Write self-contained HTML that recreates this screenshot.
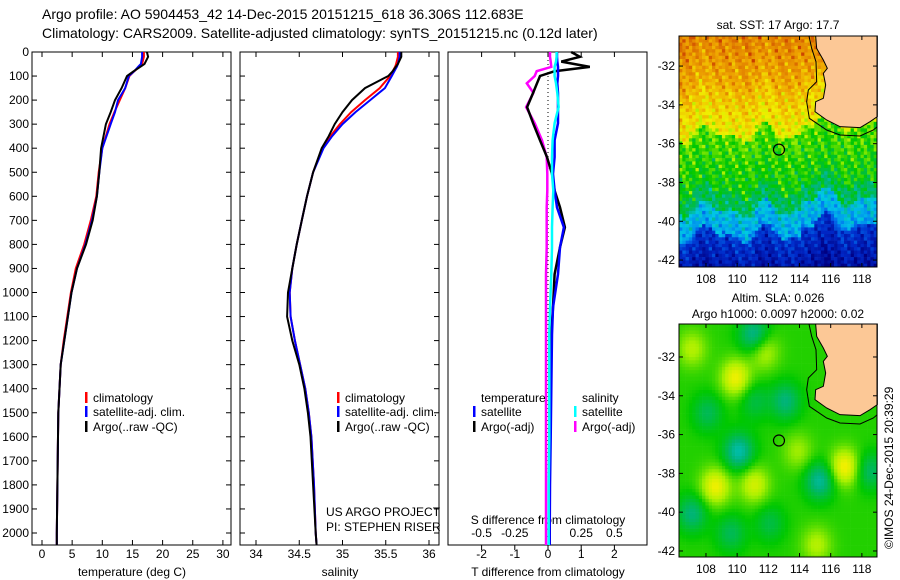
<!DOCTYPE html>
<html><head><meta charset="utf-8">
<style>
body{margin:0;background:#fff;}
svg{display:block;font-family:"Liberation Sans",sans-serif;}
</style></head>
<body>
<svg id="c" width="900" height="580" viewBox="0 0 900 580"></svg>
<script>
// ---------- data ----------
const depths=[0,20,50,60,80,100,150,200,250,300,350,400,500,600,700,800,900,1000,1100,1200,1300,1400,1500,1600,1800,2000,2050];
const tempArgo=[17.4,17.6,17.0,16.4,15.2,14.1,13.2,12.1,11.4,10.6,10.2,9.8,9.5,9.1,8.4,7.3,5.8,4.9,4.3,3.7,3.1,2.9,2.7,2.65,2.55,2.45,2.45];
const tempClim=[16.9,16.9,16.6,16.2,15.3,14.5,13.8,12.9,12.0,11.2,10.6,10.0,9.4,9.0,8.1,7.0,5.6,4.8,4.2,3.6,3.1,2.9,2.7,2.65,2.55,2.45,2.45];
const tempSat=[16.6,16.6,16.4,16.0,15.3,14.4,13.8,12.6,12.1,11.4,10.7,10.0,9.5,9.1,8.3,7.2,5.8,4.9,4.3,3.7,3.1,2.9,2.7,2.65,2.55,2.45,2.45];
const salArgo=[35.68,35.68,35.64,35.62,35.58,35.53,35.26,35.11,35.0,34.91,34.84,34.76,34.66,34.59,34.53,34.47,34.42,34.37,34.36,34.42,34.50,34.56,34.60,34.63,34.66,34.69,34.70];
const salClim=[35.64,35.64,35.62,35.61,35.58,35.55,35.43,35.26,35.1,34.97,34.86,34.77,34.66,34.59,34.53,34.47,34.42,34.39,34.40,34.45,34.51,34.57,34.61,34.64,34.67,34.69,34.70];
const salSat=[35.66,35.66,35.64,35.63,35.60,35.57,35.49,35.32,35.15,35.0,34.88,34.78,34.66,34.59,34.53,34.47,34.42,34.39,34.40,34.45,34.51,34.57,34.61,34.64,34.67,34.69,34.70];
const dDepths=[0,20,40,62,80,100,130,170,229,296,367,437,507,576,646,729,812,924,1062,1174,1400,1600,1800,2000,2050];
const tDiffArgo=[0.7,0.96,0.4,1.26,0.2,-0.24,-0.33,-0.45,-0.63,-0.45,-0.24,-0.03,0.12,0.2,0.36,0.51,0.36,0.2,0.15,0.1,0.08,0.06,0.05,0.05,0.05];
const tDiffSat=[0.27,0.27,0.28,0.3,0.3,0.3,0.28,0.3,0.3,0.3,0.2,0.2,0.15,0.2,0.27,0.48,0.36,0.3,0.15,0.12,0.1,0.08,0.06,0.05,0.05];
const sDiffArgo=[0.015,0.015,0.02,0.025,-0.085,-0.1,-0.16,-0.11,-0.165,-0.1,-0.045,-0.01,-0.005,-0.005,-0.01,-0.01,-0.01,-0.015,-0.015,-0.015,-0.015,-0.015,-0.015,-0.015,-0.015];
const sDiffSat=[0.065,0.065,0.06,0.05,0.05,0.05,0.06,0.07,0.08,0.05,0.035,0.03,0.03,0.04,0.035,0.03,0.03,0.025,0.015,0.01,0.01,0.01,0.005,0.005,0.005];
const tempTicks=[0,5,10,15,20,25,30];
const salTicks=[34,34.5,35,35.5,36];
const tdTicks=[-2,-1,0,1,2];
const sdTicks=[-0.5,-0.25,0,0.25,0.5];
const depthTicks=[0,100,200,300,400,500,600,700,800,900,1000,1100,1200,1300,1400,1500,1600,1700,1800,1900,2000];
const lonTicks=[108,110,112,114,116,118];
const latTicks=[-32,-34,-36,-38,-40,-42];
const argoLon=[112.683], argoLat=[-36.306];

// ---------- helpers ----------
const S=document.getElementById('c');const NS='http://www.w3.org/2000/svg';
function mk(tag,at,parent){const e=document.createElementNS(NS,tag);for(const k in at)e.setAttribute(k,at[k]);(parent||S).appendChild(e);return e;}
function txt(x,y,s,anchor,size,parent){const t=mk('text',{x:x,y:y,'font-size':size||12,'text-anchor':anchor||'start',fill:'#000'},parent);t.textContent=s;return t;}
const yD=d=>52+0.2405*d;
const xT=v=>42+6.03*v;
const xS=v=>256+86.5*(v-34);
const xTd=v=>548+33.2*v;
const xSd=v=>548+132.8*v;

function panel(x0,x1,name){const r=mk('rect',{x:x0,y:52,width:x1-x0,height:493,fill:'none',stroke:'#000','stroke-width':1});}
function line(xs,ds,fx,col,w,name){const pts=xs.map((v,i)=>fx(v).toFixed(1)+','+yD(ds[i]).toFixed(1)).join(' ');const p=mk('polyline',{points:pts,fill:'none',stroke:col,'stroke-width':w});}

// titles
let t=txt(42,19,'Argo profile: AO 5904453_42 14-Dec-2015 20151215_618 36.306S 112.683E','start',14);

t=txt(42,38,'Climatology: CARS2009. Satellite-adjusted climatology: synTS_20151215.nc (0.12d later)','start',14);


// panels
panel(32,231,'temperature-panel');panel(240,439,'salinity-panel');panel(448,647,'difference-panel');
depthTicks.forEach(d=>{const y=yD(d);
 mk('line',{x1:32,y1:y,x2:37,y2:y,stroke:'#000'});mk('line',{x1:226,y1:y,x2:231,y2:y,stroke:'#000'});
 mk('line',{x1:240,y1:y,x2:245,y2:y,stroke:'#000'});mk('line',{x1:434,y1:y,x2:439,y2:y,stroke:'#000'});
 const l=txt(29,y+4,String(d),'end',12);});
tempTicks.forEach(v=>{const x=xT(v);mk('line',{x1:x,y1:52,x2:x,y2:57,stroke:'#000'});mk('line',{x1:x,y1:540,x2:x,y2:545,stroke:'#000'});
 const l=txt(x,558,String(v),'middle',12);});
salTicks.forEach(v=>{const x=xS(v);mk('line',{x1:x,y1:52,x2:x,y2:57,stroke:'#000'});mk('line',{x1:x,y1:540,x2:x,y2:545,stroke:'#000'});
 const l=txt(x,558,String(v),'middle',12);});
tdTicks.forEach(v=>{const x=xTd(v);mk('line',{x1:x,y1:52,x2:x,y2:57,stroke:'#000'});mk('line',{x1:x,y1:545,x2:x,y2:550,stroke:'#000'});
 const l=txt(x,558,String(v),'middle',12);});
sdTicks.forEach(v=>{const l=txt(xSd(v),537,String(v),'middle',12);});
[['temperature (deg C)',132,'x-axis-title-temperature'],['salinity',340,'x-axis-title-salinity'],['T difference from climatology',548,'x-axis-title-tdiff']].forEach(a=>{const l=txt(a[1],576,a[0],'middle',12);});
t=txt(548,524,'S difference from climatology','middle',12);
t=mk('line',{x1:548,y1:52,x2:548,y2:545,stroke:'#000','stroke-dasharray':'1,3'});

// profile lines
line(tempClim,depths,xT,'#f00',2,'temperature-climatology-line');
line(tempSat,depths,xT,'#00f',2,'temperature-satellite-line');
line(tempArgo,depths,xT,'#000',2,'temperature-argo-line');
line(salClim,depths,xS,'#f00',2,'salinity-climatology-line');
line(salSat,depths,xS,'#00f',2,'salinity-satellite-line');
line(salArgo,depths,xS,'#000',2,'salinity-argo-line');
line(sDiffArgo,dDepths,xSd,'#f0f',2.5,'sdiff-argo-line');
line(tDiffArgo,dDepths,xTd,'#000',2.5,'tdiff-argo-line');
line(tDiffSat,dDepths,xTd,'#00f',2.5,'tdiff-satellite-line');
line(sDiffSat,dDepths,xSd,'#0ff',2.5,'sdiff-satellite-line');

// legends
function leg(x,y,col,s,name){const g=mk('g',{});
 if(col)mk('rect',{x:x,y:y-10,width:2.5,height:11,fill:col},g);txt(x+8,y,s,'start',12,g);}
leg(85,402,'#f00','climatology','legend-climatology');leg(85,416,'#00f','satellite-adj. clim.','legend-satellite');leg(85,431,'#000','Argo(..raw -QC)','legend-argo');
leg(337,402,'#f00','climatology','legend2-climatology');leg(337,416,'#00f','satellite-adj. clim.','legend2-satellite');leg(337,431,'#000','Argo(..raw -QC)','legend2-argo');
leg(473,402,null,'temperature','legend3-temperature');leg(473,416,'#00f','satellite','legend3-t-satellite');leg(473,431,'#000','Argo(-adj)','legend3-t-argo');
leg(574,402,null,'salinity','legend3-salinity');leg(574,416,'#0ff','satellite','legend3-s-satellite');leg(574,431,'#f0f','Argo(-adj)','legend3-s-argo');
t=txt(326,516,'US ARGO PROJECT','start',12);
t=txt(326,531,'PI: STEPHEN RISER','start',12);

// ---------- maps ----------
const LON0=106.27,LON1=118.97;
function jet(v){
 const stops=[[0,[0,0,130]],[0.12,[0,40,200]],[0.25,[0,120,240]],[0.35,[0,200,230]],[0.45,[0,180,120]],[0.55,[0,200,0]],[0.65,[170,240,0]],[0.72,[240,240,0]],[0.82,[240,170,0]],[0.92,[220,110,0]],[1,[180,0,0]]];
 v=Math.max(0,Math.min(1,v));for(let i=1;i<stops.length;i++){if(v<=stops[i][0]){const a=stops[i-1],b=stops[i],f=(v-a[0])/(b[0]-a[0]);return 'rgb('+a[1].map((c,k)=>Math.round(c+(b[1][k]-c)*f)).join(',')+')';}}}
function map(y0,y1,latTop,latScale,field,cell,name){
 const g=mk('g',{});
 const X=lon=>679+(lon-LON0)*(198/(LON1-LON0));const Y=lat=>y0+(latTop-lat)*latScale;
 for(let y=y0;y<y1;y+=cell)for(let x=679;x<877;x+=cell){const lon=LON0+(x-679)/(198/(LON1-LON0)),lat=latTop-(y-y0)/latScale;
  const w=Math.min(cell+0.3,877-x),h=Math.min(cell+0.3,y1-y);
  mk('rect',{x:x,y:y,width:w,height:h,fill:jet(field(lon,lat))},g);}
 const land=[[467,103],[470,140],[490,175],[502,200],[490,215],[497,250],[490,290],[467,300],[465,330],[500,355],[540,375],[600,378],[630,360],[652,345],[652,103]];
 const off=y0-103/3;
 mk('polygon',{points:land.map(p=>(660+p[0]/3)+','+(off+p[1]/3)).join(' '),fill:'#fcc896',stroke:'#000','stroke-width':1},g);
 const coast=[[447,103],[455,140],[468,180],[470,240],[445,265],[440,300],[448,350],[500,385],[540,400],[600,403],[640,385],[652,375]];
 mk('polyline',{points:coast.map(p=>(660+p[0]/3)+','+(off+p[1]/3)).join(' '),fill:'none',stroke:'#000','stroke-width':1},g);
 mk('rect',{x:679,y:y0,width:198,height:y1-y0,fill:'none',stroke:'#000'},g);
 const c=mk('circle',{cx:X(argoLon[0]),cy:Y(argoLat[0]),r:5.5,fill:'none',stroke:'#000','stroke-width':1.2},g);
 
 lonTicks.forEach(v=>{const x=X(v);mk('line',{x1:x,y1:y0,x2:x,y2:y0+4,stroke:'#000'},g);mk('line',{x1:x,y1:y1-4,x2:x,y2:y1,stroke:'#000'},g);txt(x,y1+16,String(v),'middle',12,g);});
 latTicks.forEach(v=>{const y=Y(v);mk('line',{x1:679,y1:y,x2:683,y2:y,stroke:'#000'},g);mk('line',{x1:873,y1:y,x2:877,y2:y,stroke:'#000'},g);txt(675,y+4,String(v),'end',12,g);});
}
function sst(lon,lat){
 const L=-lat+0.35*Math.sin(lon*1.7)+0.25*Math.sin(lon*3.1+1)+(lon>114?0.6:0);
 let b;
 if(L<33)b=0.88-(L-30.5)*0.025; else if(L<35.4)b=0.8-(L-33)*0.035; else if(L<38.4)b=0.6-(L-35.4)*0.02; else if(L<39.3)b=0.48; else if(L<40.6)b=0.36-(L-39.3)*0.05; else b=0.15-(L-40.6)*0.05;
 const n=0.035*Math.sin(lon*7.3+lat*3.1)+0.03*Math.sin(lon*13.1-lat*9.7)+0.03*Math.sin(lon*23.7+lat*17.3)+0.02*Math.sin(lon*41.1-lat*29.9);
 return b+n;}
const blobs=[[109.8,-33,1],[108.5,-38.6,1],[111,-38.5,0.8],[116.8,-37.6,1.1],[115,-41.6,0.6],[111.6,-31.6,0.7],[107,-31.5,0.6],[113.8,-36.8,0.5],[111,-30.8,-1],[110,-36.8,-1.1],[115.2,-38.3,-1],[113,-34.2,-0.8],[107,-40,-0.8],[108,-34.8,-0.6],[118.4,-37.8,-0.7],[109.5,-41,-0.6],[111,-34.2,-0.5],[112,-40.5,-0.5]];
function sla(lon,lat){let v=0.57;blobs.forEach(b=>{const d=((lon-b[0])**2+(lat-b[1])**2);v+=0.15*b[2]*Math.exp(-d/0.9);});return v;}
map(36,267,-30.45,19.4,sst,3.3,'sst-map');
t=txt(778,29,'sat. SST: 17 Argo: 17.7','middle',12);
map(324,557,-30.3,19.4,sla,3.3,'sla-map');
t=txt(778,302,'Altim. SLA: 0.026','middle',12);
t=txt(778,318,'Argo h1000: 0.0097 h2000: 0.02','middle',12);
t=txt(0,0,'\u00A9IMOS 24-Dec-2015 20:39:29','start',12);t.setAttribute('transform','translate(893,549) rotate(-90)');

</script>
</body></html>
